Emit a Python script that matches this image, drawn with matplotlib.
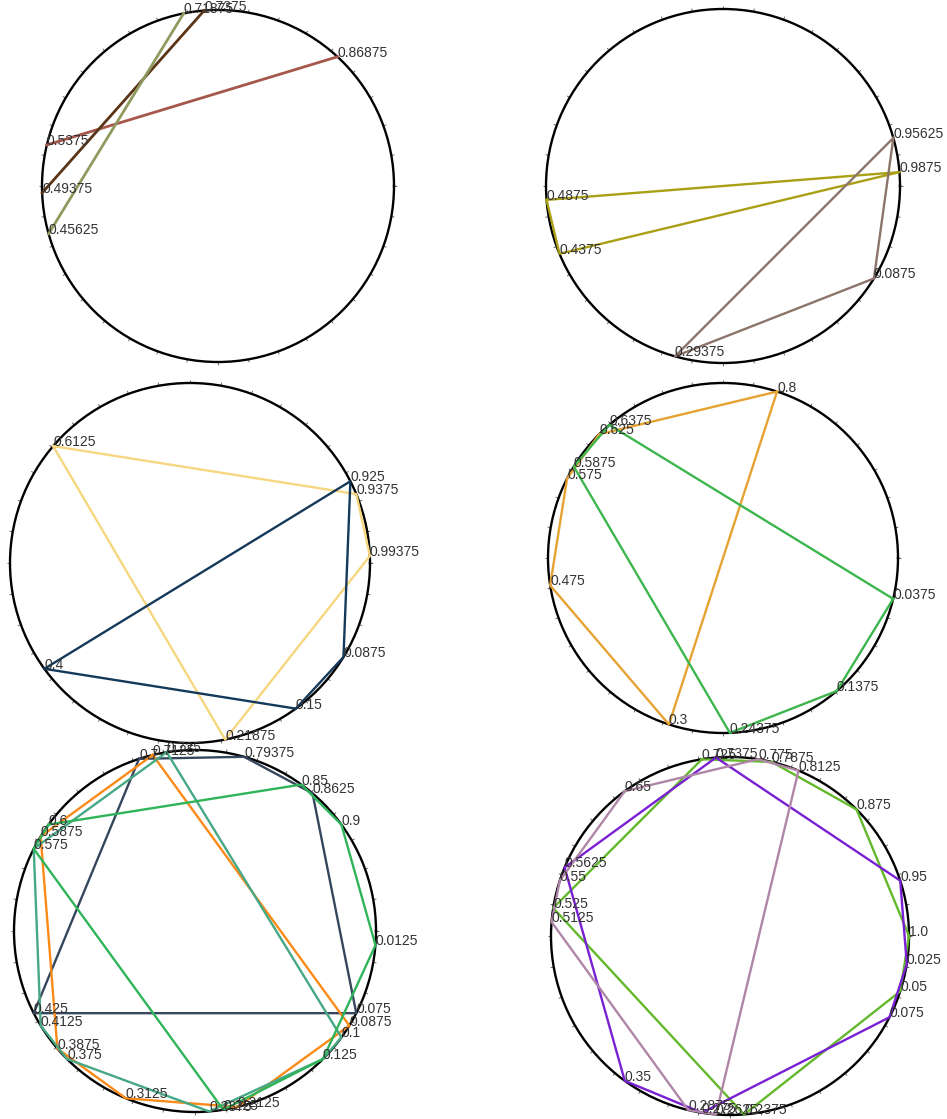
import numpy as np
import matplotlib
matplotlib.use('Agg')
import matplotlib.pyplot as plt

### Positions on the circle (fraction of a full turn, clockwise from east)
## panel (a) top-left
a1 = [0.86875, 0.5375]
a2 = [0.49375, 0.7375]
a3 = [0.45625, 0.71875]
## panel (b) top-right
b1 = [0.4875, 0.9875, 0.4375]
b2 = [0.95625, 0.0875, 0.29375]
## panel (c) middle-left
c1 = [0.6125, 0.9375, 0.99375, 0.21875]
c2 = [0.4, 0.925, 0.0875, 0.15]
## panel (d) middle-right
d1 = [0.8, 0.3, 0.475, 0.575, 0.625]
d2 = [0.0375, 0.1375, 0.24375, 0.5875, 0.6375]
## panel (e) bottom-left
e1 = [0.7, 0.425, 0.075, 0.8625, 0.79375]
e2 = [0.7125, 0.0875, 0.2125, 0.3125, 0.3875, 0.5875]
e3 = [0.725, 0.1, 0.125, 0.2375, 0.375, 0.4125, 0.575]
e4 = [0.6, 0.85, 0.9, 0.0125, 0.125, 0.225, 0.575]
## panel (f) bottom-right
f1 = [0.725, 0.7875, 0.875, 1.0, 0.05, 0.2375, 0.525]
f2 = [0.7375, 0.95, 0.025, 0.075, 0.275, 0.35, 0.5625]
f3 = [0.65, 0.775, 0.8125, 0.2625, 0.2875, 0.5125, 0.55]

W, H = 947, 1119

def ring_plot(ax, series, colors, closed=True, lw=1.7):
    ax.set_theta_zero_location('E')
    ax.set_theta_direction(-1)
    ax.grid(False)
    ax.set_yticks([])
    ax.set_xticks([])
    ax.spines['polar'].set_linewidth(1.7)
    ax.spines['polar'].set_color('k')
    ## small outward tick marks round the rim
    tt = np.deg2rad(np.arange(0, 360, 10))
    ax.vlines(tt, 1.0, 1.018, color='#555555', lw=0.6, clip_on=False)
    ax.set_ylim(0, 1)
    done = set()
    for vals, col in zip(series, colors):
        vv = list(vals)
        if closed and len(vv) > 2:
            vv = vv + [vv[0]]
        th = 2*np.pi*np.asarray(vv)
        ax.plot(th, np.ones(len(th)), color=col, lw=lw, clip_on=False, zorder=3)
        for v in vals:
            if v in done:   # one label per point
                continue
            done.add(v)
            ax.text(2*np.pi*v, 1.0, str(v), ha='left', va='baseline',
                    fontsize=10, color='#333333', family='Liberation Sans',
                    clip_on=False, zorder=4)
    return

def add_ring(fig, cx, cy, r):
    return fig.add_axes([(cx-r)/W, 1-(cy+r)/H, 2*r/W, 2*r/H], projection='polar')

fig = plt.figure(figsize=(W/100, H/100), dpi=100)

ax = add_ring(fig, 218, 186, 176)
ring_plot(ax, [a1, a2, a3], ['#a5574b', '#5a3517', '#8e9a5e'], lw=2.0)

ax = add_ring(fig, 723, 186, 177)
ring_plot(ax, [b1, b2], ['#a9a015', '#8c746a'])

ax = add_ring(fig, 190, 563, 180)
ring_plot(ax, [c1, c2], ['#f6d77f', '#15395a'])

ax = add_ring(fig, 723, 558, 175)
ring_plot(ax, [d1, d2], ['#e6a232', '#3db64e'])

ax = add_ring(fig, 195, 931, 181)
ring_plot(ax, [e1, e2, e3, e4], ['#35465d', '#fb8a17', '#46a884', '#2fb45a'])

ax = add_ring(fig, 730, 936, 179)
ring_plot(ax, [f1, f2, f3], ['#63b82c', '#7a20d3', '#b086a8'])

fig.savefig('out.png', dpi=100)
